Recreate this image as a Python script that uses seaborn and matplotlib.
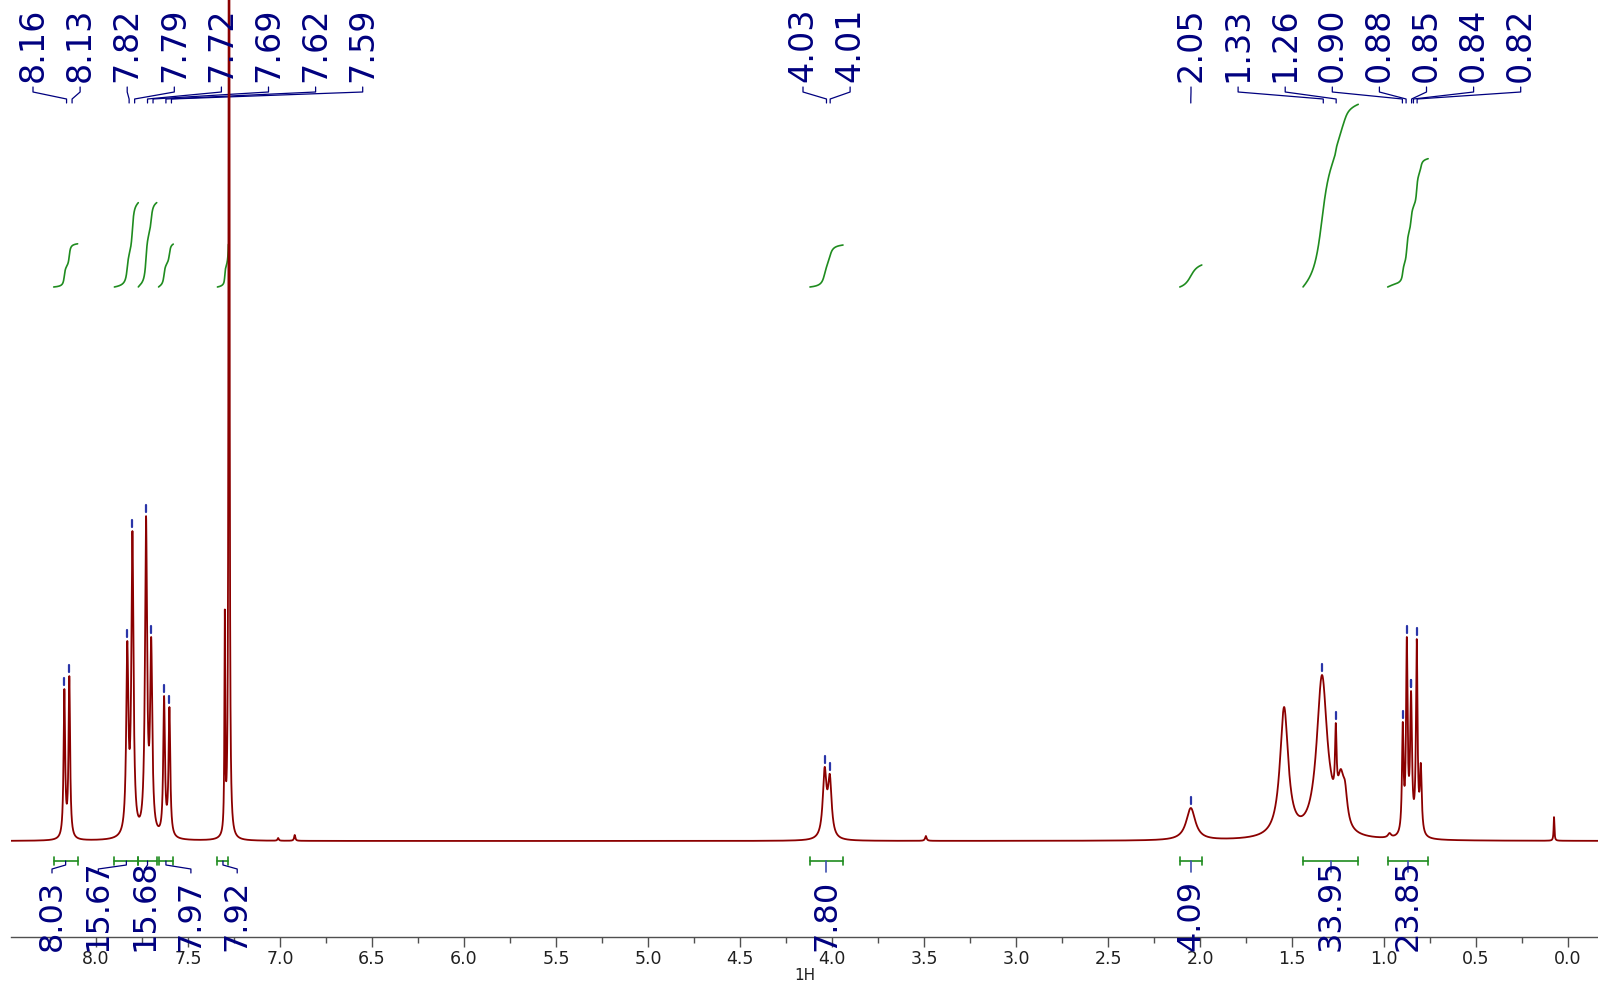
import numpy as np
import pandas as pd
import matplotlib
matplotlib.use("Agg")
import matplotlib.pyplot as plt
from matplotlib.ticker import MultipleLocator
import seaborn as sns

# ---------------- data ----------------
# observed peaks: position (ppm), apparent height (px above baseline), half-width (ppm)
peak_ppm = [8.172, 8.145, 7.830, 7.802, 7.728, 7.700, 7.630, 7.601, 7.300, 7.277,
            7.01, 6.92, 4.040, 4.012, 3.49, 2.05, 1.543, 1.337, 1.290, 1.262,
            1.235, 1.212, 1.195, 0.97, 0.898, 0.876, 0.853, 0.822, 0.800, 0.076]
peak_height = [152, 165, 200, 310, 325, 204, 145, 134, 232, 1500,
               3, 6, 74, 67, 5, 33, 134, 166, 72, 118,
               72, 60, 32, 8, 119, 204, 150, 202, 78, 24]
peak_hwhm = [0.005, 0.005, 0.0068, 0.0068, 0.0068, 0.0068, 0.0055, 0.0055, 0.0025, 0.0025,
             0.004, 0.004, 0.012, 0.012, 0.005, 0.03, 0.027, 0.035, 0.02, 0.005,
             0.02, 0.015, 0.01, 0.01, 0.005, 0.005, 0.006, 0.005, 0.006, 0.0025]

top_labels_left = [8.16, 8.13, 7.82, 7.79, 7.72, 7.69, 7.62, 7.59]
top_labels_mid = [4.03, 4.01]
top_labels_right = [2.05, 1.33, 1.26, 0.90, 0.88, 0.85, 0.84, 0.82]

integral_values = [8.03, 15.67, 15.68, 7.97, 7.92, 7.80, 4.09, 33.95, 23.85]
integral_start = [8.23, 7.90, 7.77, 7.66, 7.34, 4.12, 2.11, 1.44, 0.98]
integral_end = [8.10, 7.77, 7.67, 7.58, 7.28, 3.94, 1.99, 1.14, 0.76]

x_axis_label = "1H"

# ---------------- layout helpers ----------------
W, H = 1598, 987
PX0, PPM_PX = 1568.0, 184.0     # pixel of 0 ppm, pixels per ppm
AX_LEFT, AX_BOTTOM = 11, 938
BASE = 842                       # pixel row of spectrum baseline


def ppm_of(px):
    return (PX0 - px) / PPM_PX


def yd(py):
    return BASE - py


NAVY = "#00007f"
GREEN = "#1f8c1f"
RED = "#8b0000"
MARK = "#2a35a8"

sns.set_theme(style="ticks")
plt.rcParams["font.family"] = ["DejaVu Sans"]

fig = plt.figure(figsize=(W / 100, H / 100), dpi=100)
ax = fig.add_axes([AX_LEFT / W, (H - AX_BOTTOM) / H, (W - AX_LEFT) / W, AX_BOTTOM / H])

# ---------------- spectrum model ----------------
x = np.linspace(ppm_of(AX_LEFT), ppm_of(W), 26000)
P = np.array(peak_ppm)
G = np.array(peak_hwhm)
Hh = np.array(peak_height, dtype=float)


def lor(xx, p, g):
    return g ** 2 / (g ** 2 + (xx - p) ** 2)


A = lor(P[:, None], P[None, :], G[None, :])
amp = np.clip(np.linalg.solve(A, Hh), 0, None)
y = (amp[None, :] * lor(x[:, None], P[None, :], G[None, :])).sum(axis=1)

df = pd.DataFrame({"ppm": x, "intensity": y})
sns.lineplot(data=df, x="ppm", y="intensity", ax=ax, color=RED, lw=1.3,
             estimator=None, sort=False, zorder=3)

ax.set_xlim(ppm_of(AX_LEFT), ppm_of(W))
ax.set_ylim(yd(AX_BOTTOM), yd(0))

# local maxima of the drawn spectrum (for the small peak markers)
imax = np.where((y[1:-1] > y[:-2]) & (y[1:-1] > y[2:]))[0] + 1
imax = imax[y[imax] > 10]

# ---------------- axes styling ----------------
for s in ["left", "right", "top"]:
    ax.spines[s].set_visible(False)
ax.spines["bottom"].set_color("#505050")
ax.spines["bottom"].set_linewidth(1.0)
ax.set_yticks([])
ax.xaxis.set_major_locator(MultipleLocator(0.5))
ax.xaxis.set_minor_locator(MultipleLocator(0.25))
ax.tick_params(axis="x", which="major", length=7, width=1, color="#505050",
               labelsize=12.5, labelcolor="#202020", pad=1.5, bottom=True)
ax.tick_params(axis="x", which="minor", length=4, width=1, color="#505050", bottom=True)
ax.set_xlabel(x_axis_label, fontsize=11, color="#202020", labelpad=0)
ax.set_ylabel("")
ax.set_facecolor("white")

# ---------------- peak labels on top ----------------
groups = [(top_labels_left, 33.0), (top_labels_mid, 803.0), (top_labels_right, 1191.0)]
for labels, start in groups:
    for i, v in enumerate(labels):
        lx = start + 47.1 * i
        ax.text(ppm_of(lx), yd(82), f"{v:.2f}", rotation=90, ha="center", va="bottom",
                fontsize=24, color=NAVY)
        ax.plot([ppm_of(lx), ppm_of(lx), v, v], [yd(88), yd(93), yd(100), yd(104)],
                color=NAVY, lw=0.9, clip_on=False)
        k = imax[np.argmin(np.abs(x[imax] - v))]
        ax.plot([x[k], x[k]], [y[k] + 4, y[k] + 11], color=MARK, lw=1.6, zorder=4)

# ---------------- integrals ----------------
dx = abs(x[1] - x[0])
bottom_label_px = [52.0 + 46.3 * i for i in range(5)]
for j, (s, e, v) in enumerate(zip(integral_start, integral_end, integral_values)):
    m = (x <= s) & (x >= e)
    cum = np.cumsum(y[m]) * dx
    cum = cum / cum[-1]
    ax.plot(x[m], yd(288) + v * 5.38 * cum, color=GREEN, lw=1.2)
    # bracket
    ax.plot([s, e], [yd(862), yd(862)], color=GREEN, lw=1.2, clip_on=False)
    for ee in (s, e):
        ax.plot([ee, ee], [yd(858), yd(866)], color=GREEN, lw=1.2, clip_on=False)
    c = (s + e) / 2
    cpx = PX0 - PPM_PX * c
    lx = bottom_label_px[j] if j < len(bottom_label_px) else cpx
    if abs(lx - cpx) > 1.5:
        ax.plot([c, c, ppm_of(lx), ppm_of(lx)], [yd(862), yd(866), yd(870), yd(874)],
                color=NAVY, lw=0.9, clip_on=False)
    else:
        ax.plot([c, c], [yd(862), yd(873)], color="#4050b0", lw=1.2, clip_on=False)
    ax.text(ppm_of(lx), yd(951), f"{v:.2f}", rotation=90, ha="center", va="bottom",
            fontsize=23, color=NAVY, zorder=6, clip_on=False)

fig.savefig("out.png", dpi=100, facecolor="white")
